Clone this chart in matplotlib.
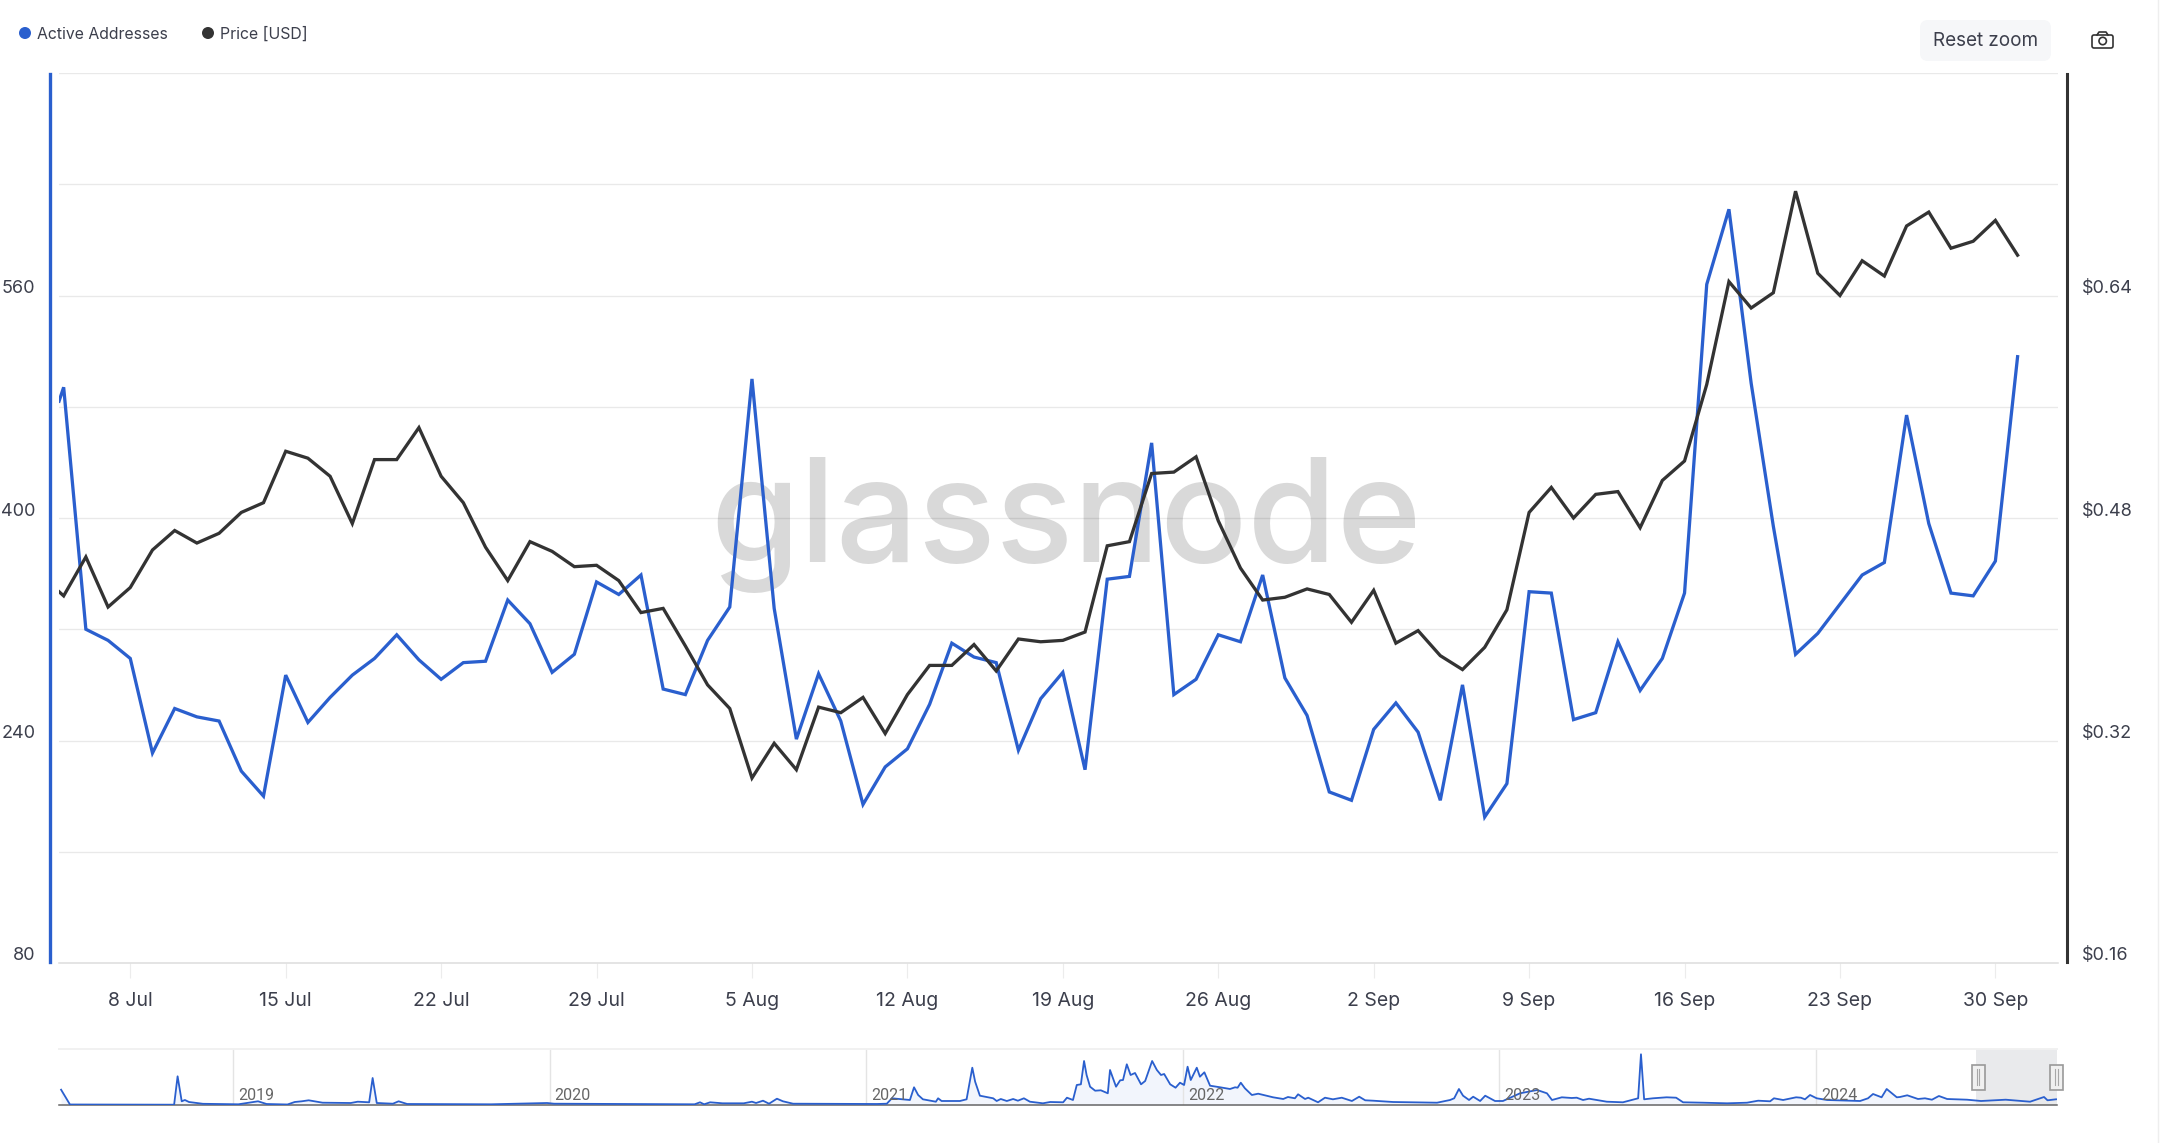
###--- IMPORTS ---###
import matplotlib
matplotlib.use('Agg')
import matplotlib.pyplot as plt
from matplotlib.patches import Circle, FancyBboxPatch, Rectangle
from matplotlib.transforms import ScaledTranslation
import pandas as pd


###--- DATA ---###
# the very first sample sits a few hours before the first full day
first_sample = pd.Timestamp('2024-07-04 19:00')
days = pd.date_range('2024-07-05', '2024-10-01', freq='D')

addresses = [484, 494, 320, 312, 299, 231, 263, 257, 254, 218, 200, 287, 253, 271, 287, 299, 316, 298, 284, 296, 297, 341,
             324, 289, 302, 354, 345, 359, 277, 273, 312, 336, 500, 335, 241, 288, 254, 194, 221, 234, 266, 310, 300,
             296, 233, 270, 289, 219, 356, 358, 454, 273, 284, 316, 311, 359, 285, 258, 203, 197, 248, 267, 246,
             197, 280, 185, 209, 347, 346, 255, 260, 311, 276, 299, 346,
             568, 622, 497, 394, 302, 317, 338, 359, 368, 474, 396, 346, 344, 369, 516]

price = [0.427, 0.424, 0.452, 0.416, 0.430, 0.457, 0.471, 0.462, 0.469, 0.484, 0.491, 0.528, 0.523, 0.510, 0.476, 0.522,
         0.522, 0.545, 0.510, 0.491, 0.459, 0.435, 0.463, 0.456, 0.445, 0.446, 0.435, 0.412, 0.415, 0.388, 0.360,
         0.343, 0.293, 0.318, 0.299, 0.344, 0.340, 0.351, 0.325, 0.353, 0.374, 0.374, 0.389, 0.370, 0.393, 0.391,
         0.392, 0.398, 0.460, 0.463, 0.512, 0.513, 0.524, 0.478, 0.444, 0.421, 0.423, 0.429, 0.425, 0.405, 0.428,
         0.390, 0.399, 0.381, 0.371, 0.387, 0.414, 0.484, 0.502, 0.480, 0.497, 0.499, 0.473, 0.507, 0.521,
         0.576, 0.650, 0.631, 0.642, 0.715, 0.656, 0.640, 0.665, 0.654, 0.690, 0.700, 0.674, 0.679, 0.694, 0.669]

left_ticks = [80, 160, 240, 320, 400, 480, 560, 640, 720]
left_labels = ['80', '', '240', '', '400', '', '560', '', '']
right_ticks = [0.16, 0.24, 0.32, 0.40, 0.48, 0.56, 0.64, 0.72, 0.80]
right_labels = ['$0.16', '', '$0.32', '', '$0.48', '', '$0.64', '', '']

tick_days = ['2024-07-08', '2024-07-15', '2024-07-22', '2024-07-29', '2024-08-05', '2024-08-12', '2024-08-19',
             '2024-08-26', '2024-09-02', '2024-09-09', '2024-09-16', '2024-09-23', '2024-09-30']
tick_names = ['8 Jul', '15 Jul', '22 Jul', '29 Jul', '5 Aug', '12 Aug', '19 Aug',
              '26 Aug', '2 Sep', '9 Sep', '16 Sep', '23 Sep', '30 Sep']

# overview strip under the chart, read by eye (no scale shown there)
nav_years = [2018.457, 2018.485, 2018.814, 2018.825, 2018.838, 2018.848, 2018.861, 2018.905, 2019.017, 2019.079,
             2019.106, 2019.172, 2019.195, 2019.217, 2019.239, 2019.283, 2019.372, 2019.394, 2019.430, 2019.441,
             2019.454, 2019.505, 2019.523, 2019.550, 2019.815, 2019.992, 2020.014, 2020.458, 2020.475, 2020.488,
             2020.507, 2020.546, 2020.613, 2020.639, 2020.652, 2020.674, 2020.693, 2020.718, 2020.737, 2020.769,
             2021.034, 2021.065, 2021.081, 2021.138, 2021.151, 2021.164, 2021.179, 2021.202, 2021.220, 2021.227,
             2021.238, 2021.296, 2021.317, 2021.335, 2021.344, 2021.359, 2021.375, 2021.401, 2021.412, 2021.425,
             2021.444, 2021.464, 2021.479, 2021.498, 2021.517, 2021.558, 2021.581, 2021.622, 2021.634, 2021.653,
             2021.665, 2021.678, 2021.688, 2021.696, 2021.707, 2021.723, 2021.741, 2021.763, 2021.770, 2021.789,
             2021.802, 2021.811, 2021.823, 2021.835, 2021.849, 2021.868, 2021.881, 2021.903, 2021.918, 2021.931,
             2021.941, 2021.960, 2021.977, 2021.991, 2022.004, 2022.015, 2022.025, 2022.044, 2022.054, 2022.068,
             2022.086, 2022.118, 2022.149, 2022.165, 2022.173, 2022.183, 2022.196, 2022.218, 2022.238, 2022.285,
             2022.317, 2022.332, 2022.354, 2022.364, 2022.386, 2022.396, 2022.427, 2022.449, 2022.474, 2022.502,
             2022.534, 2022.557, 2022.576, 2022.601, 2022.664, 2022.803, 2022.844, 2022.857, 2022.872, 2022.885,
             2022.904, 2022.917, 2022.939, 2022.955, 2022.986, 2023.011, 2023.065, 2023.119, 2023.150, 2023.166,
             2023.197, 2023.228, 2023.244, 2023.264, 2023.283, 2023.339, 2023.390, 2023.438, 2023.447, 2023.457,
             2023.485, 2023.528, 2023.558, 2023.580, 2023.643, 2023.719, 2023.782, 2023.817, 2023.855, 2023.867,
             2023.896, 2023.937, 2023.952, 2023.965, 2023.981, 2024.002, 2024.035, 2024.139, 2024.164, 2024.180,
             2024.207, 2024.223, 2024.255, 2024.265, 2024.288, 2024.322, 2024.344, 2024.366, 2024.388, 2024.414,
             2024.477, 2024.521, 2024.599, 2024.676, 2024.720, 2024.731, 2024.758]
nav_values = [15.3, 0.5, 0.3, 28.7, 3.7, 5, 3, 1.2, 0.7, 3.7,
              1, 0.5, 3, 3.7, 4.7, 2.3, 2, 3.3, 2.7, 27,
              2, 1.3, 3.7, 1, 0.7, 2, 1.3, 0.7, 2.7, 0.7,
              2.7, 1.7, 1.7, 3.3, 2, 4.3, 1.3, 6.3, 3.7, 1.3,
              1, 1.3, 6.7, 5, 17.7, 10, 5.7, 4.3, 3.3, 6.7,
              4, 4, 5.7, 37.3, 23.3, 9.3, 8.3, 6.7, 4, 6,
              4, 6, 4.3, 6.7, 3.3, 1.7, 3, 2.7, 7.3, 5,
              20, 20.7, 44, 30, 18.3, 14.3, 14.7, 11.7, 35, 18.3,
              24.7, 25, 40.7, 30, 32, 20.7, 24, 44, 35, 30,
              31, 20.7, 17.3, 22.3, 20, 38.3, 25, 37.3, 28.3, 32.7,
              19.3, 17.7, 16, 17.7, 17.3, 22.3, 16.7, 10, 11.3, 7.7,
              6, 8, 6.7, 10.7, 6, 7.3, 2.7, 7.3, 5.7, 7.3,
              4, 8.3, 4.7, 4.3, 3, 2.3, 5, 6.7, 16, 9.3,
              5, 8.3, 4, 9.3, 4, 4, 11.7, 15, 11.7, 5,
              7.7, 7, 7.3, 5, 6.3, 3.3, 2.7, 6.7, 50.7, 5.7,
              6.7, 7.7, 7.3, 2.7, 2.3, 1.7, 2.3, 4.3, 3.7, 6.7,
              5, 7.7, 7.3, 5.7, 10, 6.7, 5, 4, 6.7, 11,
              7.7, 16, 7.7, 8, 9.7, 6, 6.7, 5.3, 9, 6,
              5.3, 4, 5.3, 3.3, 8, 4.7, 5.7]
nav_labels = [2019, 2020, 2021, 2022, 2023, 2024]
nav_window = [2024.506, 2024.761]


###--- STYLE ---###
W, H = 2162, 1143
BLUE = '#2a5fce'
DARK = '#333333'
TXT = '#3c3f4c'

plt.rcParams['font.family'] = ['Inter', 'DejaVu Sans']


def box(x0, y0, x1, y1):
    # pixel box (top-left origin) to figure fractions
    return [x0 / W, 1 - y1 / H, (x1 - x0) / W, (y1 - y0) / H]


###--- CODE ---###
fig = plt.figure(figsize=(W / 100, H / 100), dpi=100, facecolor='white')

x_all = [first_sample] + list(days)

ax = fig.add_axes(box(59, 73, 2058, 963))
ax.plot(x_all, addresses, color=BLUE, lw=2.35, solid_joinstyle='miter', zorder=3)
ax.set_xlim(days[0] - pd.Timedelta(days=0.21), days[0] + pd.Timedelta(days=89.82))
ax.set_ylim(left_ticks[0], left_ticks[-1])
ax.set_yticks(left_ticks)
ax.set_yticklabels(left_labels)
ax.grid(axis='y', color='black', alpha=0.085, lw=1.0, zorder=1)
ax.set_axisbelow(True)
ax.set_xticks(pd.to_datetime(tick_days))
ax.set_xticklabels(tick_names)
ax.tick_params(axis='x', length=10.8, width=0.8, color='#ececec', labelsize=14.0, labelcolor=TXT, pad=10)
ax.tick_params(axis='y', length=0, labelsize=13.0, labelcolor=TXT, pad=10.5)
for s in ['top', 'right']:
    ax.spines[s].set_visible(False)
ax.spines['bottom'].set_color('#dddddd')
ax.spines['bottom'].set_linewidth(1.1)
ax.spines['left'].set_color(BLUE)
ax.spines['left'].set_linewidth(2.4)
ax.spines['left'].set_position(('outward', 6.5))
ax.spines['left'].set_bounds(81, 719)

ax2 = ax.twinx()
ax2.plot(x_all, price, color=DARK, lw=2.35, solid_joinstyle='miter', zorder=4)
ax2.set_ylim(right_ticks[0], right_ticks[-1])
ax2.set_yticks(right_ticks)
ax2.set_yticklabels(right_labels)
ax2.tick_params(axis='y', length=0, labelsize=13.0, labelcolor=TXT, pad=11)
for s in ['top', 'left', 'bottom']:
    ax2.spines[s].set_visible(False)
ax2.spines['right'].set_color(DARK)
ax2.spines['right'].set_linewidth(2.2)
ax2.spines['right'].set_position(('outward', 6.3))
ax2.spines['right'].set_bounds(0.161, 0.799)

# value labels sit just above their gridline
lift = ScaledTranslation(0, 9 / 100, fig.dpi_scale_trans)
for lab in ax.get_yticklabels() + ax2.get_yticklabels():
    lab.set_transform(lab.get_transform() + lift)

# watermark goes under the gridlines
ax.text(0.504, 0.4509, 'glassnode', transform=ax.transAxes, ha='center', va='baseline', fontsize=104,
        fontweight='medium', color='#d9d9d9', zorder=0.5)

# overview strip
nav = fig.add_axes(box(59, 1049, 2057, 1105))
nav.set_xlim(2018.4504, 2024.761)
nav.set_ylim(0, 56)
nav.fill_between(nav_years, nav_values, color='#f2f5fc', lw=0, zorder=1)
nav.axvspan(nav_window[0], nav_window[1], color='#e9eaec', lw=0, zorder=1.5)
for y in nav_labels:
    nav.axvline(y, color='#e4e4e4', lw=1, zorder=2)
nav.plot(nav_years, nav_values, color=BLUE, lw=1.3, zorder=3)
for y in nav_labels:
    nav.text(y + 0.016, 10, str(y), color='#666666', fontsize=11.5, family=['Roboto', 'DejaVu Sans'],
             va='center', ha='left', zorder=4)
nav.set_xticks([])
nav.set_yticks([])
for s in ['left', 'right']:
    nav.spines[s].set_visible(False)
nav.spines['top'].set_color('#f1f1f1')
nav.spines['top'].set_linewidth(1.4)
nav.spines['bottom'].set_color('#666666')
nav.spines['bottom'].set_linewidth(1.1)

# chrome: legend, button, camera, scrollbar handles, drawn in pixel coordinates
ui = fig.add_axes([0, 0, 1, 1], zorder=10)
ui.set_xlim(0, W)
ui.set_ylim(H, 0)
ui.axis('off')
ui.patch.set_alpha(0)

ui.add_patch(Circle((25, 33), 6, color=BLUE, lw=0))
ui.text(37, 33, 'Active Addresses', fontsize=11.4, color=TXT, va='center_baseline', ha='left')
ui.add_patch(Circle((208, 33), 6, color=DARK, lw=0))
ui.text(220, 33, 'Price [USD]', fontsize=11.4, color=TXT, va='center_baseline', ha='left')

ui.add_patch(FancyBboxPatch((1928, 28), 115, 25, boxstyle='round,pad=8,rounding_size=8', fc='#f6f7f9', ec='none'))
ui.text(1985.5, 39.5, 'Reset zoom', fontsize=13.6, color=TXT, ha='center', va='center_baseline')

ui.add_patch(FancyBboxPatch((2092, 35), 21, 13, boxstyle='round,pad=0,rounding_size=2', fc='none', ec=DARK, lw=1.2))
ui.plot([2097, 2099, 2106, 2108], [35, 32, 32, 35], color=DARK, lw=1.2)
ui.add_patch(Circle((2102.7, 41), 3.7, fc='none', ec=DARK, lw=1.2))

for hx in [1978, 2056.5]:
    ui.add_patch(Rectangle((hx - 6.5, 1064.5), 13, 25, fc='#f0f0f0', ec='#999999', lw=1.2))
    ui.plot([hx - 1.2, hx - 1.2], [1069, 1085], color='#a8a8a8', lw=0.8)
    ui.plot([hx + 1.2, hx + 1.2], [1069, 1085], color='#a8a8a8', lw=0.8)

ui.plot([2158, 2158], [0, H], color='#eeeeee', lw=1)

plt.savefig('out.png', dpi=100)
